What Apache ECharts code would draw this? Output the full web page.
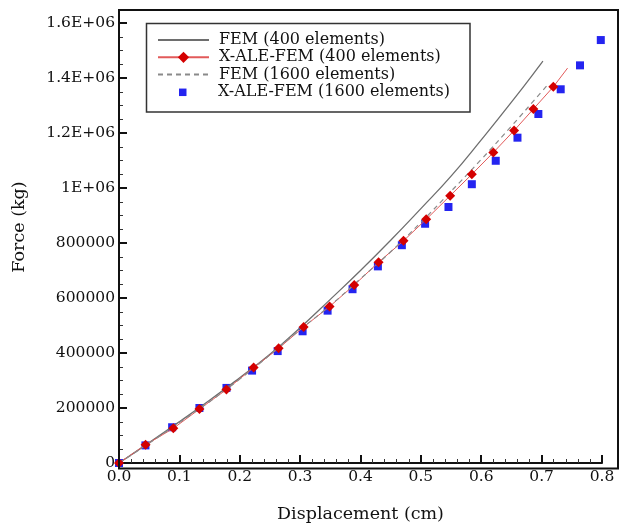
<!DOCTYPE html>
<html>
<head>
<meta charset="utf-8">
<script src="https://cdn.jsdelivr.net/npm/echarts@6/dist/echarts.min.js"></script>
<style>
html,body{margin:0;padding:0;background:#fff;}
#chart{width:622px;height:528px;}
</style>
</head>
<body>
<div id="chart"></div>
<script>
// ---- Data ----
const seriesNames = ['FEM (400 elements)', 'X-ALE-FEM (400 elements)', 'FEM (1600 elements)', 'X-ALE-FEM (1600 elements)'];

const fem400X = [0, 0.05, 0.1, 0.15, 0.2, 0.25, 0.3, 0.35, 0.4, 0.45, 0.5, 0.55, 0.6, 0.65, 0.7, 0.702];
const fem400F = [0, 74000, 150000, 228000, 310000, 395000, 492000, 595000, 700000, 810000, 925000, 1043000, 1175000, 1312000, 1455000, 1462000];

const xale400X = [0, 0.044, 0.09, 0.1332, 0.178, 0.223, 0.2644, 0.3058, 0.3488, 0.3896, 0.4299, 0.4712, 0.5088, 0.5485, 0.5844, 0.620, 0.6544, 0.6863, 0.7194, 0.743];
const xale400F = [0, 66000, 126000, 196000, 267000, 347000, 417000, 494600, 569000, 647000, 730000, 808000, 886000, 972000, 1049800, 1129000, 1209000, 1287000, 1368000, 1436000];
const xale400Marked = [true, true, true, true, true, true, true, true, true, true, true, true, true, true, true, true, true, true, true, false];

const fem1600X = [0, 0.1, 0.2, 0.3, 0.35, 0.4, 0.45, 0.5, 0.55, 0.6, 0.65, 0.7, 0.712];
const fem1600F = [0, 147000, 305000, 485000, 573000, 670000, 768000, 875000, 988000, 1104000, 1225000, 1350000, 1380000];

const xale1600X = [0, 0.0438, 0.088, 0.1332, 0.178, 0.2204, 0.2628, 0.3041, 0.3455, 0.3868, 0.4288, 0.4685, 0.507, 0.5457, 0.5844, 0.624, 0.660, 0.6946, 0.7316, 0.7636, 0.798];
const xale1600F = [0, 64000, 130000, 200000, 273000, 336000, 407000, 479000, 554000, 632000, 715000, 792000, 870000, 931000, 1013800, 1099000, 1183000, 1269000, 1359000, 1446000, 1538000];

const xTickLabels = ['0.0', '0.1', '0.2', '0.3', '0.4', '0.5', '0.6', '0.7', '0.8'];
const yTickValues = [0, 200000, 400000, 600000, 800000, 1000000, 1200000, 1400000, 1600000];
const yTickLabels = ['0', '200000', '400000', '600000', '800000', '1E+06', '1.2E+06', '1.4E+06', '1.6E+06'];

// ---- Build ----
const zip = (xs, ys) => xs.map((x, i) => [x, ys[i]]);
const xale400Data = xale400X.map((x, i) => xale400Marked[i] ? [x, xale400F[i]] : { value: [x, xale400F[i]], symbol: 'none' });

const FONT = 'DejaVu Serif';
const TXT = '#111';

const chart = echarts.init(document.getElementById('chart'), null, { renderer: 'canvas' });
chart.setOption({
  animation: false,
  backgroundColor: '#fff',
  grid: { left: 119, right: 20, top: 23, bottom: 59.5, containLabel: false },
  xAxis: {
    type: 'value', min: 0, max: 0.8, interval: 0.1,
    name: 'Displacement (cm)', nameLocation: 'middle', nameGap: 42,
    nameTextStyle: { fontFamily: FONT, fontSize: 17.5, color: TXT },
    axisLine: { show: true, onZero: false, lineStyle: { color: '#111', width: 2 } },
    axisTick: { show: true, inside: true, length: 8, lineStyle: { color: '#111', width: 2 } },
    minorTick: { show: true, splitNumber: 5, length: 4, lineStyle: { color: '#333', width: 1 } },
    splitLine: { show: false },
    axisLabel: {
      fontFamily: FONT, fontSize: 15.5, color: TXT, margin: 6,
      formatter: v => { const i = Math.round(v / 0.1); return Math.abs(v - i * 0.1) < 1e-6 ? xTickLabels[i] : ''; }
    }
  },
  yAxis: {
    type: 'value', min: 0, max: 1600000, interval: 200000,
    name: 'Force (kg)', nameLocation: 'middle', nameGap: 91, nameRotate: 90,
    nameTextStyle: { fontFamily: FONT, fontSize: 17.5, color: TXT, padding: [0, 0, 0, 32] },
    axisLine: { show: true, onZero: false, lineStyle: { color: '#111', width: 2 } },
    axisTick: { show: true, inside: true, length: 8, lineStyle: { color: '#111', width: 2 } },
    minorTick: { show: true, splitNumber: 4, length: 4, lineStyle: { color: '#333', width: 1 } },
    splitLine: { show: false },
    axisLabel: {
      fontFamily: FONT, fontSize: 15.5, color: TXT, margin: 4,
      formatter: v => { const i = yTickValues.indexOf(v); return i >= 0 ? yTickLabels[i] : ''; }
    }
  },
  legend: [
    {
      data: [
        { name: seriesNames[0], itemStyle: { opacity: 0 } },
        { name: seriesNames[1] },
        { name: seriesNames[2], itemStyle: { opacity: 0 } }
      ],
      orient: 'vertical', left: 146, top: 23,
      padding: [8.5, 8, 0, 11],
      itemWidth: 51, itemHeight: 14, itemGap: 0.3,
      textStyle: { fontFamily: FONT, fontSize: 16, color: TXT, lineHeight: 17, padding: [0, 0, 0, 5] },
      selectedMode: false
    },
    {
      data: [{ name: seriesNames[3], icon: 'rect', itemStyle: { opacity: 1 } }],
      orient: 'vertical', left: 146, top: 83.8,
      padding: [0, 8, 0, 33],
      itemWidth: 7.5, itemHeight: 7.5, itemGap: 0,
      textStyle: { fontFamily: FONT, fontSize: 16, color: TXT, lineHeight: 17, padding: [0, 0, 0, 26.5] },
      selectedMode: false
    }
  ],
  graphic: [
    { type: 'rect', z: 100, silent: true, shape: { x: 119, y: 10, width: 499, height: 458.5 }, style: { fill: 'none', stroke: '#111', lineWidth: 2 } },
    { type: 'rect', z: 100, silent: true, shape: { x: 146.5, y: 23.5, width: 323.5, height: 88.5 }, style: { fill: 'none', stroke: '#333', lineWidth: 1.5 } }
  ],
  series: [
    {
      name: seriesNames[0], type: 'line', data: zip(fem400X, fem400F),
      symbol: 'none', smooth: true, color: '#6e6e6e',
      lineStyle: { color: '#6e6e6e', width: 1.3 }
    },
    {
      name: seriesNames[1], type: 'line', data: xale400Data,
      symbol: 'diamond', symbolSize: 10, showSymbol: true, showAllSymbol: true,
      color: '#d40000',
      itemStyle: { color: '#d40000' },
      lineStyle: { color: '#e25a5a', width: 1 }
    },
    {
      name: seriesNames[2], type: 'line', data: zip(fem1600X, fem1600F),
      symbol: 'none', smooth: true, color: '#8a8a8a',
      lineStyle: { color: '#8a8a8a', width: 1.2, type: [5, 4] }
    },
    {
      name: seriesNames[3], type: 'scatter', data: zip(xale1600X, xale1600F),
      symbol: 'rect', symbolSize: 8, color: '#2424f0',
      itemStyle: { color: '#2424f0', opacity: 1 }
    }
  ]
});
</script>
</body>
</html>
